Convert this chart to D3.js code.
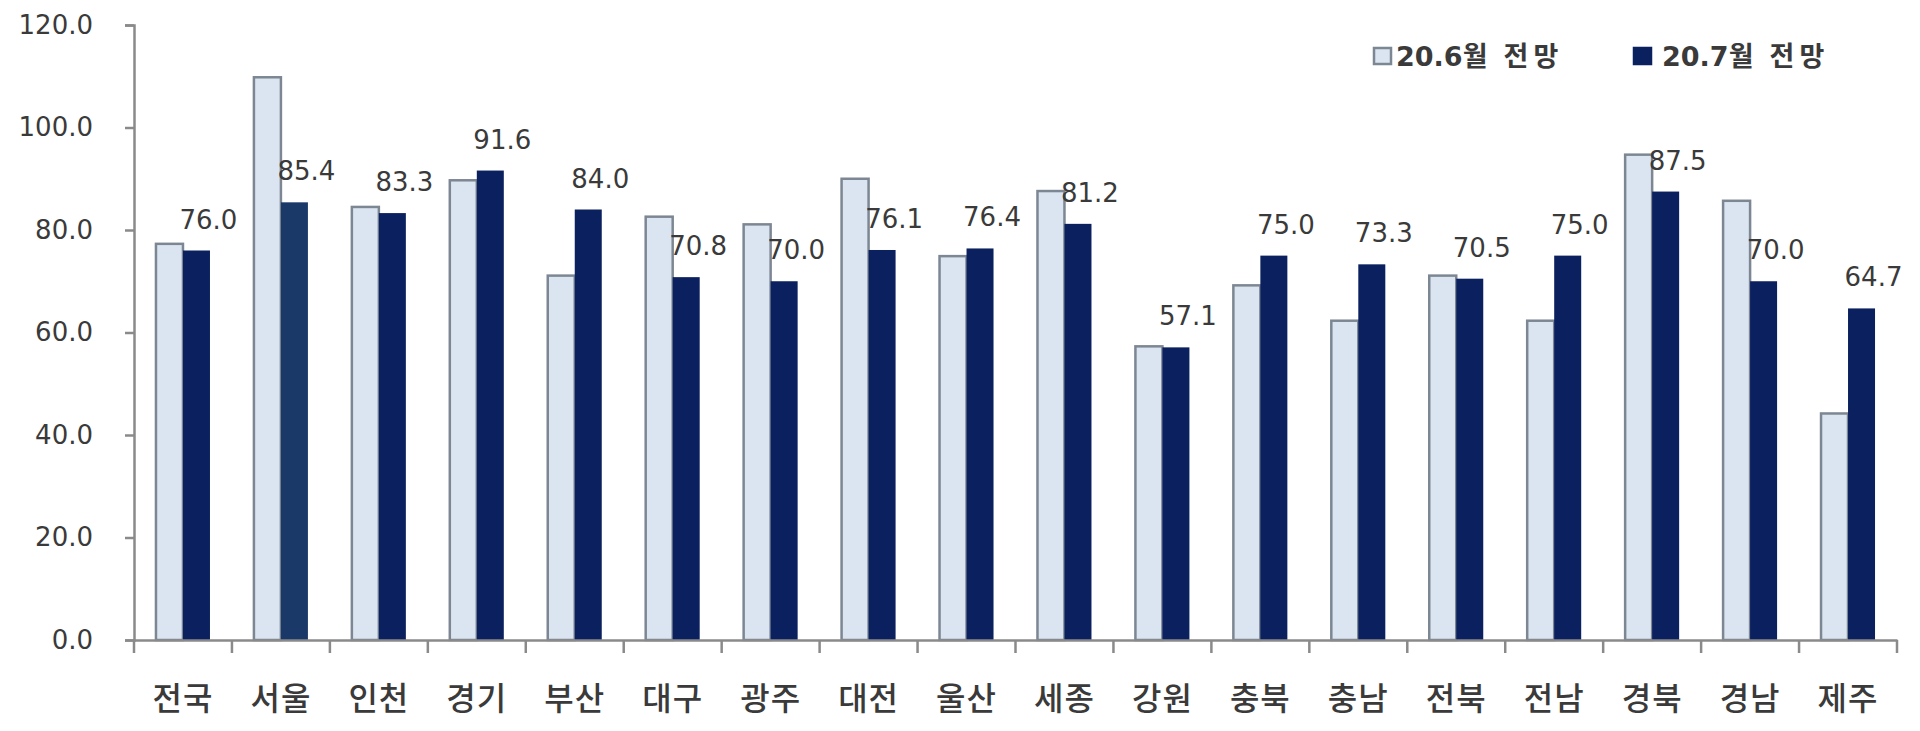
<!DOCTYPE html>
<html>
<head>
<meta charset="utf-8">
<script src="https://cdn.jsdelivr.net/npm/d3@7"></script>
<style>
  body { margin: 0; background: #fff; }
  svg { display: block; }
</style>
</head>
<body>
<svg id="chart"></svg>
<script>
var width = 1920;
var height = 731;

// data
var regions = ["전국", "서울", "인천", "경기", "부산", "대구", "광주", "대전", "울산",
               "세종", "강원", "충북", "충남", "전북", "전남", "경북", "경남", "제주"];
var june = [77.3, 109.8, 84.5, 89.7, 71.1, 82.6, 81.1, 90.0, 74.9,
            87.6, 57.3, 69.2, 62.3, 71.1, 62.3, 94.7, 85.7, 44.2];
var july = [76.0, 85.4, 83.3, 91.6, 84.0, 70.8, 70.0, 76.1, 76.4,
            81.2, 57.1, 75.0, 73.3, 70.5, 75.0, 87.5, 70.0, 64.7];
var seriesNames = ["20.6월 전망", "20.7월 전망"];
var yTicks = [0, 20, 40, 60, 80, 100, 120];

var svg = d3.select("#chart")
  .attr("width", width)
  .attr("height", height);

var x = d3.scaleBand()
  .domain(regions)
  .range([134, 1897]);

var y = d3.scaleLinear()
  .domain([0, 120])
  .range([640, 25]);

var barW = 27;
var lightFill = "#dbe5f1";
var lightStroke = "#7d8793";
var darkFill = "#0b205e";
var textColor = "#3a3a3a";
var numFont = "'DejaVu Sans', 'Noto Sans CJK KR', sans-serif";
var korFont = "'Noto Sans CJK KR', sans-serif";

// y axis
var yAxis = d3.axisLeft(y)
  .tickValues(yTicks)
  .tickFormat(d3.format(".1f"))
  .tickSize(9)
  .tickPadding(32);

var yG = svg.append("g")
  .attr("transform", "translate(" + x.range()[0] + ",0)")
  .call(yAxis);
yG.select(".domain").attr("stroke", "#8a8a8a").attr("stroke-width", 2.5);
yG.selectAll(".tick line").attr("stroke", "#8a8a8a").attr("stroke-width", 2.5);
yG.selectAll(".tick text")
  .attr("fill", textColor)
  .style("font-family", numFont)
  .style("font-size", "26px");

// bars
var light = svg.append("g").selectAll("rect")
  .data(regions)
  .enter().append("rect")
  .attr("x", function(d) { return x(d) + x.bandwidth() / 2 - barW; })
  .attr("y", function(d, i) { return y(june[i]); })
  .attr("width", barW)
  .attr("height", function(d, i) { return y(0) - y(june[i]); })
  .attr("fill", lightFill)
  .attr("stroke", lightStroke)
  .attr("stroke-width", 2.5);

var dark = svg.append("g").selectAll("rect")
  .data(regions)
  .enter().append("rect")
  .attr("x", function(d) { return x(d) + x.bandwidth() / 2; })
  .attr("y", function(d, i) { return y(july[i]); })
  .attr("width", barW)
  .attr("height", function(d, i) { return y(0) - y(july[i]); })
  .attr("fill", function(d) { return d === "서울" ? "#1a3968" : darkFill; });

// value labels over the 20.7 bars
svg.append("g").selectAll("text")
  .data(regions)
  .enter().append("text")
  .attr("x", function(d) { return x(d) + x.bandwidth() / 2 + barW / 2 + 12; })
  .attr("y", function(d, i) { return y(july[i]) - 22; })
  .attr("text-anchor", "middle")
  .attr("fill", textColor)
  .style("font-family", numFont)
  .style("font-size", "26px")
  .text(function(d, i) { return july[i].toFixed(1); });

// x axis
var xAxis = d3.axisBottom(x)
  .tickSize(0)
  .tickPadding(0)
  .tickFormat("");

var xG = svg.append("g")
  .attr("transform", "translate(0," + y(0) + ")")
  .call(xAxis);
xG.select(".domain").attr("stroke", "#8a8a8a").attr("stroke-width", 2.5);

// ticks between categories
var bounds = regions.map(function(d) { return x(d); }).concat([x.range()[1]]);
xG.selectAll(".sep")
  .data(bounds)
  .enter().append("line")
  .attr("class", "sep")
  .attr("x1", function(d) { return d; })
  .attr("x2", function(d) { return d; })
  .attr("y1", 0)
  .attr("y2", 13)
  .attr("stroke", "#8a8a8a")
  .attr("stroke-width", 2.5);

xG.selectAll(".cat")
  .data(regions)
  .enter().append("text")
  .attr("class", "cat")
  .attr("x", function(d) { return x(d) + x.bandwidth() / 2; })
  .attr("y", 70)
  .attr("text-anchor", "middle")
  .attr("fill", textColor)
  .style("font-family", korFont)
  .style("font-size", "32px")
  .style("font-weight", "500")
  .style("letter-spacing", "1px")
  .text(function(d) { return d; });

// legend
var legendX = [1374, 1634];
var legend = svg.append("g").selectAll("g")
  .data(seriesNames)
  .enter().append("g")
  .attr("transform", function(d, i) { return "translate(" + legendX[i] + ",48)"; });

legend.append("rect")
  .attr("width", 17)
  .attr("height", 16)
  .attr("fill", function(d, i) { return i === 0 ? lightFill : darkFill; })
  .attr("stroke", function(d, i) { return i === 0 ? lightStroke : darkFill; })
  .attr("stroke-width", 2.5);

var legendText = legend.append("text")
  .attr("x", function(d, i) { return i === 0 ? 22 : 28; })
  .attr("y", 18)
  .attr("fill", textColor)
  .style("font-weight", "bold")
  .style("font-size", "27px");

legendText.append("tspan")
  .style("font-family", numFont)
  .text(function(d) { return d.split("월")[0]; });
legendText.append("tspan")
  .style("font-family", korFont)
  .style("letter-spacing", "5px")
  .text(function(d) { return "월 " + d.split("월 ")[1]; });
</script>
</body>
</html>
